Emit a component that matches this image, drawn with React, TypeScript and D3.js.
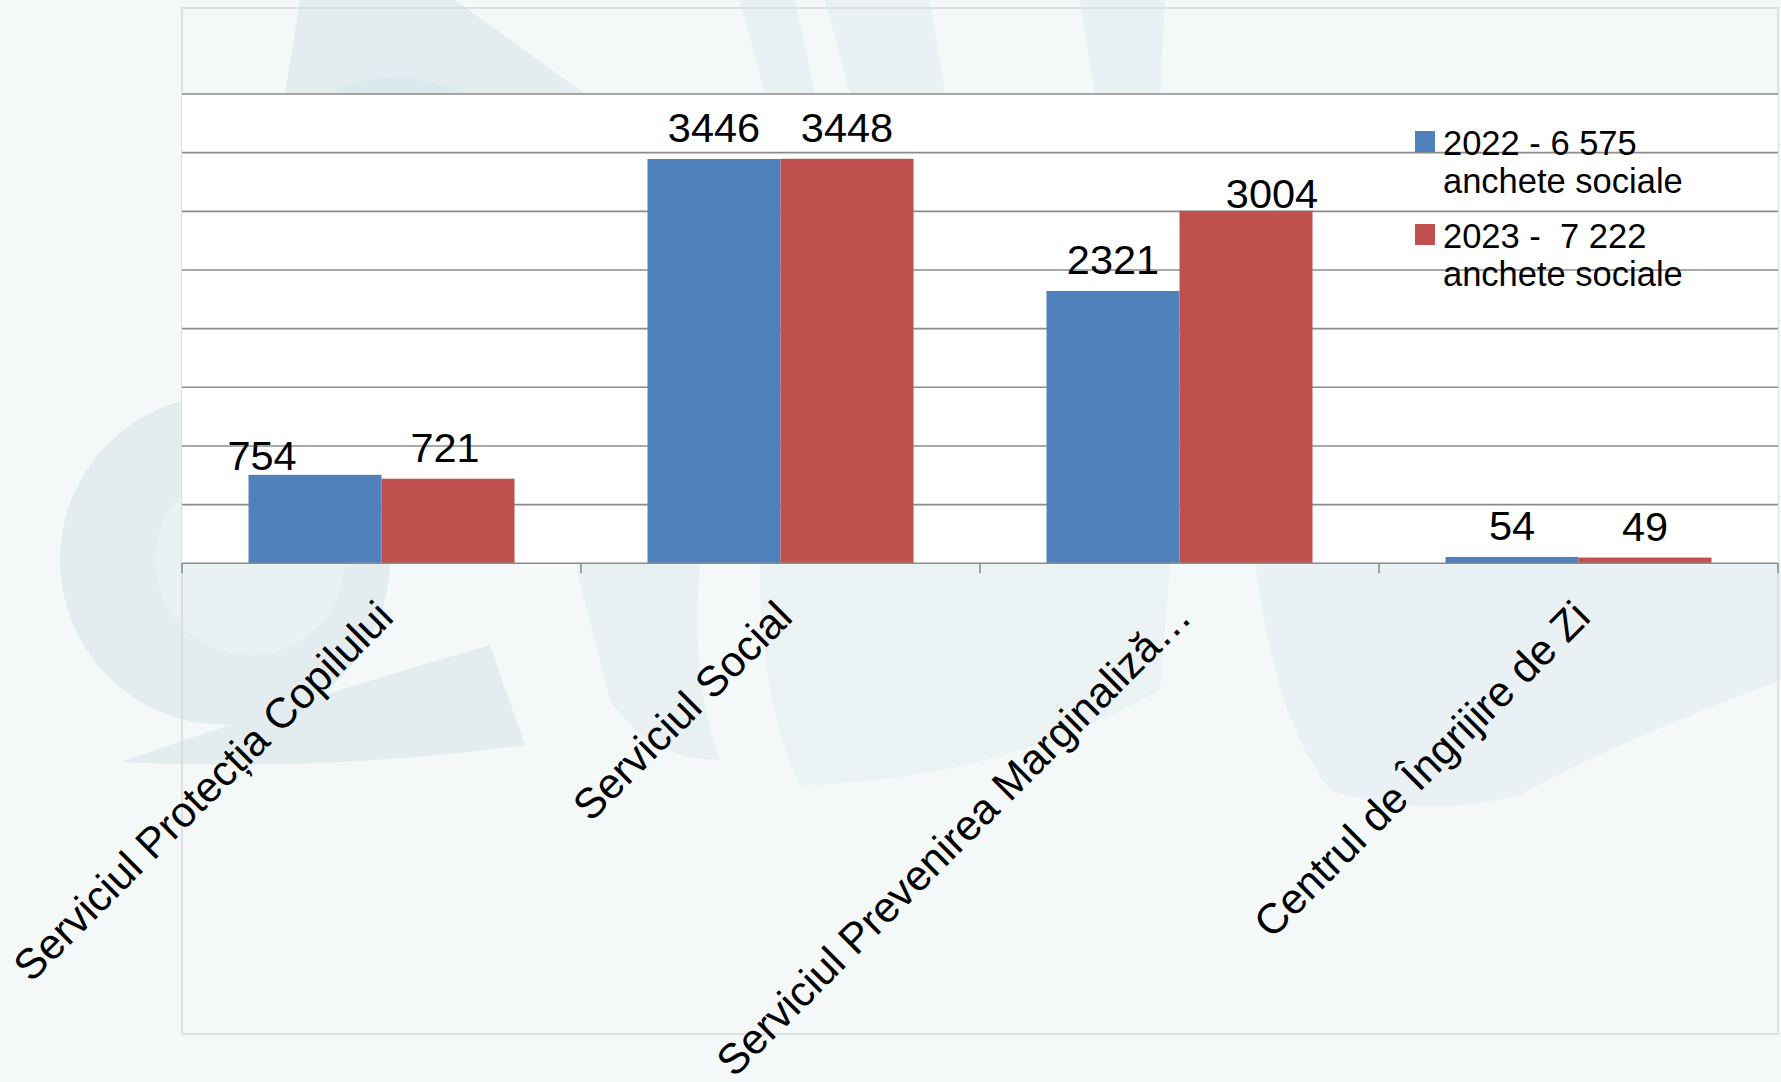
import React from "react";
import * as d3 from "d3";

const categories = [
  "Serviciul Protecția Copilului",
  "Serviciul Social",
  "Serviciul Prevenirea Marginaliză…",
  "Centrul de Îngrijire de Zi",
];
const seriesKeys = ["2022", "2023"];
const values2022 = [754, 3446, 2321, 54];
const values2023 = [721, 3448, 3004, 49];
const legendLine1 = ["2022 - 6 575", "2023 -  7 222"];
const legendLine2 = ["anchete sociale", "anchete sociale"];
const seriesColors = ["#4F81BD", "#C0504D"];
const gridValues = [500, 1000, 1500, 2000, 2500, 3000, 3500, 4000];
const yMax = 4000;

// manual label nudges (as moved in the original): [series][category] -> [dx, dy]
const labelNudge2022: [number, number][] = [[-53, 12], [0, 0], [0, 0], [0, 0]];
const labelNudge2023: [number, number][] = [[-3, 0], [0, 0], [26, 14], [0, 0]];

const W = 1781;
const H = 1082;
const FONT = "'Liberation Sans', Arial, Helvetica, sans-serif";

export default function App() {
  const plotLeft = 182;
  const plotRight = 1778;
  const axisY = 563.3;
  const topY = 94;

  const x0 = d3.scaleBand<string>().domain(categories).range([plotLeft, plotRight]).paddingInner(0).paddingOuter(0);
  const x1 = d3.scaleBand<string>().domain(seriesKeys).range([0, x0.bandwidth()]).paddingInner(0).paddingOuter(0.5);
  const y = d3.scaleLinear().domain([0, yMax]).range([axisY, topY]);

  const seriesValues = [values2022, values2023];
  const nudges = [labelNudge2022, labelNudge2023];
  const tickXs = [...categories.map((c) => x0(c) as number), plotRight];

  const wm = "#e3edf0";
  const wm2 = "#dbe8ec";

  return (
    <div style={{ position: "absolute", left: 0, top: 0, width: W, height: H, overflow: "hidden" }}>
      <svg width={W} height={H} viewBox={`0 0 ${W} ${H}`} style={{ display: "block" }}>
        <rect x={0} y={0} width={W} height={H} fill="#f4f8f9" />
        {/* faint watermark shapes */}
        <g>
          <path d="M285,94 L300,0 L455,0 L585,94 Z" fill={wm} />
          <path d="M330,94 Q370,72 420,80 Q450,88 470,94 Z" fill={wm2} />
          <path d="M740,0 L795,0 L815,94 L765,94 Z" fill={wm} opacity={0.8} />
          <path d="M825,0 L930,0 L945,94 L850,94 Z" fill={wm} opacity={0.6} />
          <path d="M1080,0 L1165,0 L1160,94 L1095,94 Z" fill={wm} opacity={0.8} />
          <circle cx={225} cy={560} r={165} fill={wm} />
          <circle cx={250} cy={560} r={95} fill="#e9f1f3" />
          <path d="M120,762 Q300,700 490,645 L525,745 Q330,772 120,762 Z" fill={wm} />
          <path d="M575,563 L700,563 Q690,680 720,760 Q650,760 610,700 Z" fill={wm} opacity={0.7} />
          <path d="M760,563 L1170,563 L1160,690 Q1000,780 800,785 Q760,700 760,563 Z" fill={wm} opacity={0.55} />
          <path d="M1255,563 L1781,563 L1781,680 Q1620,740 1520,795 Q1420,820 1330,790 Q1275,720 1255,563 Z" fill={wm} opacity={0.6} />
        </g>

        {/* chart frame */}
        <rect x={plotLeft} y={8} width={plotRight - plotLeft} height={1026} fill="none" stroke="#d6d9da" strokeWidth={1.5} />

        {/* plot area */}
        <rect x={plotLeft} y={y(yMax)} width={plotRight - plotLeft} height={y(0) - y(yMax)} fill="#ffffff" />

        {/* gridlines */}
        {gridValues.map((v) => (
          <line key={v} x1={plotLeft} x2={plotRight} y1={y(v)} y2={y(v)} stroke="#8c8c8c" strokeWidth={1.6} />
        ))}

        {/* bars */}
        {categories.map((c, i) => (
          <g key={c} transform={`translate(${x0(c)},0)`}>
            {seriesKeys.map((k, s) => (
              <rect
                key={k}
                x={x1(k)}
                y={y(seriesValues[s][i])}
                width={x1.bandwidth()}
                height={y(0) - y(seriesValues[s][i])}
                fill={seriesColors[s]}
              />
            ))}
          </g>
        ))}

        {/* axis line & ticks */}
        <line x1={plotLeft} x2={plotRight} y1={axisY} y2={axisY} stroke="#8c8c8c" strokeWidth={1.6} />
        {tickXs.map((tx, i) => (
          <line key={i} x1={tx} x2={tx} y1={axisY} y2={axisY + 10} stroke="#8c8c8c" strokeWidth={1.6} />
        ))}

        {/* data labels */}
        {categories.map((c, i) =>
          seriesKeys.map((k, s) => (
            <text
              key={c + k}
              x={(x0(c) as number) + (x1(k) as number) + x1.bandwidth() / 2 + nudges[s][i][0]}
              y={y(seriesValues[s][i]) - 17 + nudges[s][i][1]}
              textAnchor="middle"
              fontFamily={FONT}
              fontSize={41.5}
              fill="#000"
            >
              {seriesValues[s][i]}
            </text>
          ))
        )}

        {/* category labels */}
        {categories.map((c) => {
          const cx = (x0(c) as number) + x0.bandwidth() / 2;
          return (
            <text
              key={c}
              transform={`translate(${cx + 14},${axisY + 56}) rotate(-45)`}
              textAnchor="end"
              fontFamily={FONT}
              fontSize={42.5}
              fill="#000"
            >
              {c}
            </text>
          );
        })}

        {/* legend */}
        {seriesKeys.map((k, s) => {
          const ly = 131 + s * 93;
          return (
            <g key={k}>
              <rect x={1415} y={ly} width={20} height={21} fill={seriesColors[s]} />
              <text x={1443} y={ly + 24} fontFamily={FONT} fontSize={34.5} fill="#000" style={{ whiteSpace: "pre" }}>
                {legendLine1[s]}
              </text>
              <text x={1443} y={ly + 62} fontFamily={FONT} fontSize={34.5} fill="#000">
                {legendLine2[s]}
              </text>
            </g>
          );
        })}
      </svg>
    </div>
  );
}
